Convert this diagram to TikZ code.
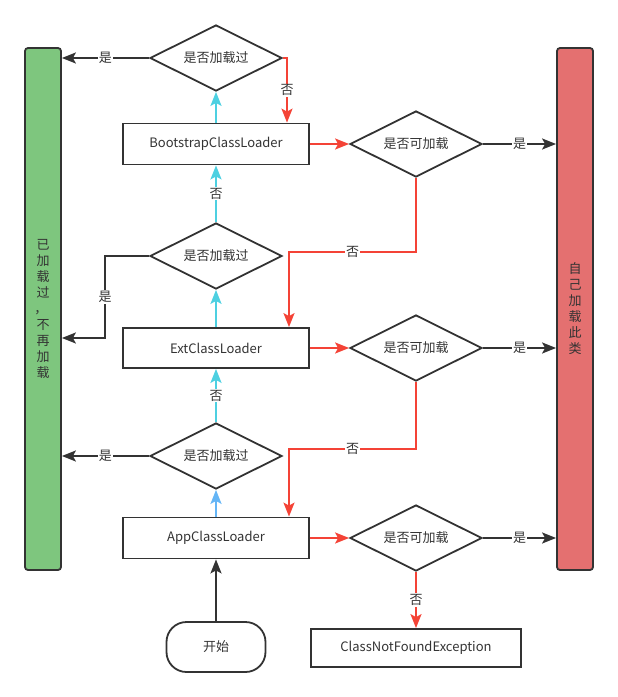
\documentclass[tikz,border=0pt]{standalone}
\usepackage{fontspec}
\setmainfont{Noto Sans CJK SC}
\usetikzlibrary{shapes,arrows.meta}
\definecolor{mygreen}{RGB}{126,198,126}
\definecolor{myred}{RGB}{228,112,112}
\definecolor{mydark}{RGB}{51,51,51}
\definecolor{mynored}{RGB}{244,67,54}
\definecolor{mycyan}{RGB}{77,208,225}
\definecolor{myblue}{RGB}{100,181,246}

\begin{document}
\begin{tikzpicture}[x=1pt,y=-1pt,line width=1.8pt,
	every node/.style={draw=mydark,text=mydark,font=\fontsize{13}{16}\selectfont},
	barnode/.style={rounded corners=3pt,minimum width=36pt,minimum height=522pt,align=center},
	loadnode/.style={rectangle,minimum width=186pt,minimum height=41pt},
	checknode/.style={diamond,aspect=2,minimum width=132pt,minimum height=66pt,inner sep=0pt},
	lbl/.style={draw=none,fill=white,inner sep=1pt},
	yesarrow/.style={mydark,-{Stealth[length=14pt,width=11pt,inset=3pt]}},
	noarrow/.style={mynored,-{Stealth[length=14pt,width=11pt,inset=3pt]}},
	uparrow/.style={mycyan,-{Stealth[length=14pt,width=11pt,inset=3pt]}},
	]
	\useasboundingbox (0,0) rectangle (618,697);
	
	% the two bars
	\node[barnode,fill=mygreen] (done) at (43,309) {已\\加\\载\\过\\\hspace*{-4pt}，\\不\\再\\加\\载};
	\node[barnode,fill=myred] (self) at (575,309) {自\\己\\加\\载\\此\\类};
	
	% the loaders
	\node[loadnode] (boot) at (216,144) {BootstrapClassLoader};
	\node[loadnode,minimum height=40pt] (ext) at (216,348) {ExtClassLoader};
	\node[loadnode] (app) at (216,538) {AppClassLoader};
	
	% the checks
	\node[checknode] (chk1) at (216,58) {是否加载过};
	\node[checknode] (chk2) at (216,256) {是否加载过};
	\node[checknode] (chk3) at (216,456) {是否加载过};
	\node[checknode] (load1) at (416,144) {是否可加载};
	\node[checknode] (load2) at (416,348) {是否可加载};
	\node[checknode] (load3) at (416,538) {是否可加载};
	
	% start and end
	\node[rounded corners=20pt,minimum width=99pt,minimum height=50pt] (start) at (216,647) {开始};
	\node[rectangle,minimum width=210pt,minimum height=38pt] (cnf) at (416,648) {ClassNotFoundException};
	
	\coordinate (bend1) at (289,252);
	\coordinate (bend2) at (105,338);
	\coordinate (bend3) at (289,449);
	
	% the edges
	\draw[yesarrow] (start) -- (app);
	\draw[uparrow,myblue] (app) -- (chk3);
	\draw[uparrow] (chk3) -- node[lbl]{否} (ext);
	\draw[uparrow] (ext) -- (chk2);
	\draw[uparrow] (chk2) -- node[lbl]{否} (boot);
	\draw[uparrow] (boot) -- (chk1);
	\draw[yesarrow] (chk1) -- node[lbl]{是} (done.east |- chk1);
	\draw[yesarrow] (chk2.west) -| node[lbl,pos=0.75]{是} (bend2) -- (done.east |- bend2);
	\draw[yesarrow] (chk3) -- node[lbl]{是} (done.east |- chk3);
	\draw[noarrow] (chk1.east) -| node[lbl,pos=0.75]{否} ([xshift=71pt]boot.north);
	\draw[noarrow] (boot) -- (load1);
	\draw[noarrow] (ext) -- (load2);
	\draw[noarrow] (app) -- (load3);
	\draw[yesarrow] (load1) -- node[lbl]{是} (self.west |- load1);
	\draw[yesarrow] (load2) -- node[lbl]{是} (self.west |- load2);
	\draw[yesarrow] (load3) -- node[lbl]{是} (self.west |- load3);
	\draw[noarrow] (load1.south) |- node[lbl,pos=0.75]{否} (bend1) -- (ext.north -| bend1);
	\draw[noarrow] (load2.south) |- node[lbl,pos=0.75]{否} (bend3) -- (app.north -| bend3);
	\draw[noarrow] (load3) -- node[lbl]{否} (cnf);
\end{tikzpicture}
\end{document}
